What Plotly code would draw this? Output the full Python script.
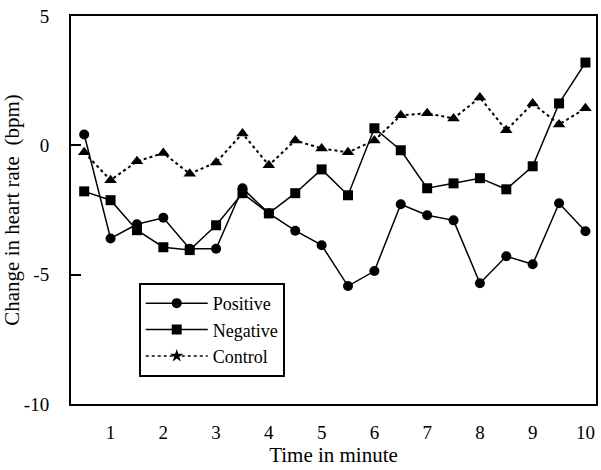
import plotly.graph_objects as go

time_min = [0.5, 1, 1.5, 2, 2.5, 3, 3.5, 4, 4.5, 5, 5.5, 6, 6.5, 7, 7.5, 8, 8.5, 9, 9.5, 10]
positive = [0.42, -3.6, -3.05, -2.8, -4.0, -4.0, -1.66, -2.63, -3.3, -3.86,
            -5.44, -4.86, -2.28, -2.7, -2.9, -5.33, -4.29, -4.6, -2.24, -3.32]
negative = [-1.78, -2.12, -3.28, -3.94, -4.05, -3.09, -1.85, -2.63, -1.85, -0.93,
            -1.93, 0.66, -0.19, -1.66, -1.47, -1.27, -1.7, -0.81, 1.62, 3.2]
control = [-0.27, -1.35, -0.62, -0.3, -1.1, -0.66, 0.46, -0.77, 0.19, -0.12,
           -0.27, 0.19, 1.16, 1.24, 1.04, 1.85, 0.58, 1.62, 0.81, 1.43]
x_ticks = [1, 2, 3, 4, 5, 6, 7, 8, 9, 10]
y_ticks = [-10, -5, 0, 5]

serif = "Liberation Serif"
fig = go.Figure()

fig.add_trace(go.Scatter(x=time_min, y=positive, mode="lines+markers", name="Positive",
                         line=dict(color="black", width=1.5),
                         marker=dict(symbol="circle", size=10, color="black"),
                         showlegend=False))
fig.add_trace(go.Scatter(x=time_min, y=negative, mode="lines+markers", name="Negative",
                         line=dict(color="black", width=1.5),
                         marker=dict(symbol="square", size=10, color="black"),
                         showlegend=False))
fig.add_trace(go.Scatter(x=time_min, y=control, mode="lines+markers", name="Control",
                         line=dict(color="black", width=2, dash="dot"),
                         marker=dict(symbol="triangle-up", size=11, color="black"),
                         showlegend=False))

# legend entries (the legend of the original shows a star for Control)
fig.add_trace(go.Scatter(x=[None], y=[None], mode="lines+markers", name="Positive",
                         line=dict(color="black", width=1.5),
                         marker=dict(symbol="circle", size=10, color="black")))
fig.add_trace(go.Scatter(x=[None], y=[None], mode="lines+markers", name="Negative",
                         line=dict(color="black", width=1.5),
                         marker=dict(symbol="square", size=10, color="black")))
fig.add_trace(go.Scatter(x=[None], y=[None], mode="lines+markers", name="Control",
                         line=dict(color="black", width=1.5, dash="dot"),
                         marker=dict(symbol="star", size=10, color="black")))

fig.update_layout(
    width=601, height=470,
    margin=dict(l=70, r=3, t=16, b=66),
    paper_bgcolor="white", plot_bgcolor="white",
    font=dict(family=serif, color="black", size=16),
    showlegend=True,
    legend=dict(x=0.129, y=0.312, xanchor="left", yanchor="top",
                bordercolor="black", borderwidth=2, bgcolor="white",
                font=dict(family=serif, size=18, color="black"),
                tracegroupgap=0, itemwidth=62),
    xaxis=dict(range=[0.25, 10.2], tickmode="array", tickvals=x_ticks,
               ticktext=[str(v) for v in x_ticks],
               showgrid=False, zeroline=False, showline=True, linecolor="black",
               linewidth=2, mirror=True, ticks="", ticklabelstandoff=10,
               tickfont=dict(family=serif, size=19, color="black"),
               title=dict(text="Time in minute", font=dict(family=serif, size=21, color="black"), standoff=4)),
    yaxis=dict(range=[-10, 5], tickmode="array", tickvals=y_ticks,
               ticktext=[str(v) for v in y_ticks],
               showgrid=False, zeroline=False, showline=True, linecolor="black",
               linewidth=2, mirror=True, ticks="inside", ticklen=10, tickwidth=2,
               tickcolor="black", ticklabelstandoff=16,
               tickfont=dict(family=serif, size=19, color="black"),
               title=dict(text="Change in heart rate  (bpm)", font=dict(family=serif, size=21, color="black"), standoff=6)),
)

fig.write_html("out.html")
